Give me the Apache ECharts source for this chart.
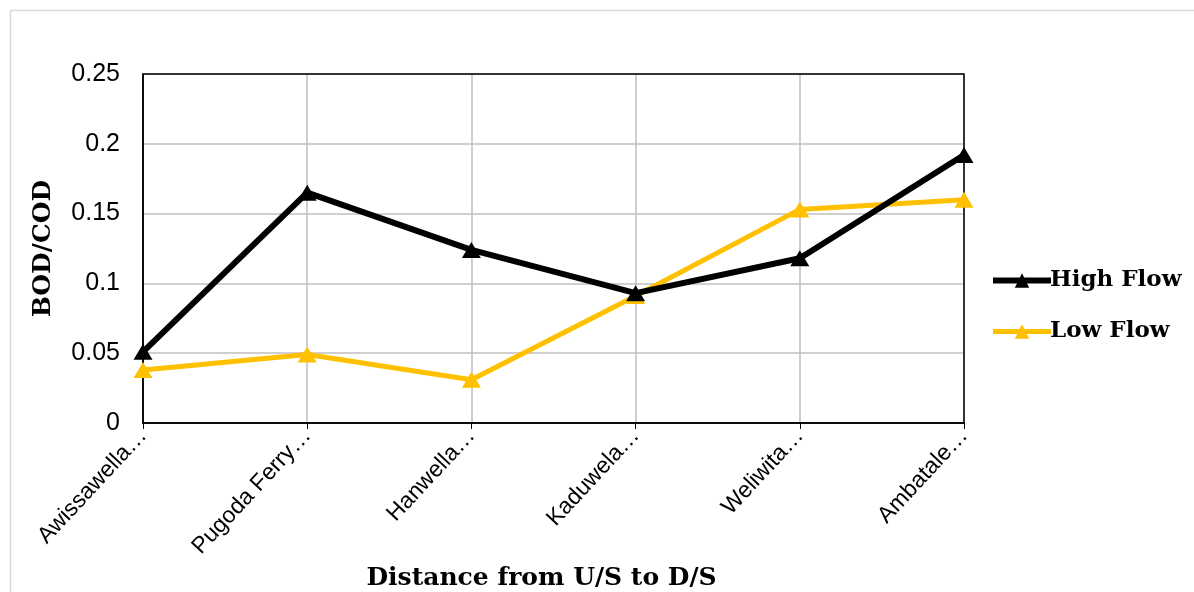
<!DOCTYPE html>
<html><head><meta charset="utf-8">
<script src="https://cdn.jsdelivr.net/npm/echarts@6/dist/echarts.min.js"></script>
<style>html,body{margin:0;padding:0;background:#fff}#c{width:1194px;height:592px}</style>
</head><body><div id="c"></div>
<script>
const categories = ['Awissawella…', 'Pugoda Ferry…', 'Hanwella…', 'Kaduwela…', 'Weliwita…', 'Ambatale…'];
const highFlow = [0.051, 0.165, 0.124, 0.093, 0.118, 0.192];
const lowFlow = [0.038, 0.049, 0.031, 0.091, 0.153, 0.160];
const yTicks = { min: 0, max: 0.25, interval: 0.05 };

const chart = echarts.init(document.getElementById('c'), null, { renderer: 'canvas' });
const serif = '"DejaVu Serif", "Liberation Serif", serif';
const sans = '"Liberation Sans", Arial, sans-serif';
chart.setOption({
  animation: false,
  backgroundColor: '#fff',
  graphic: [{
    type: 'rect', shape: { x: 10.5, y: 10.5, width: 1300, height: 700 },
    style: { fill: 'none', stroke: '#d9d9d9', lineWidth: 1.5 }, silent: true, z: -10
  }, {
    type: 'rect', shape: { x: 143, y: 74, width: 821, height: 349 },
    style: { fill: 'none', stroke: '#000', lineWidth: 1.5 }, silent: true, z: 1
  }],
  grid: { left: 143, right: 230, top: 74, bottom: 169, containLabel: false, outerBoundsMode: 'none' },
  legend: {
    orient: 'vertical', left: 985, top: 264, itemGap: 28,
    itemWidth: 58, itemHeight: 18,
    textStyle: { fontFamily: serif, fontWeight: 'bold', fontSize: 23, color: '#000', padding: [0, 0, 0, -6] },
    data: [
      { name: 'High Flow', lineStyle: { width: 6 } },
      { name: 'Low Flow', lineStyle: { width: 5 } }
    ]
  },
  xAxis: {
    type: 'category', data: categories, boundaryGap: false,
    name: 'Distance from U/S to D/S', nameLocation: 'middle', nameGap: 141,
    nameTextStyle: { fontFamily: serif, fontWeight: 'bold', fontSize: 25, color: '#000', padding: [0, 0, 0, -24] },
    axisLine: { lineStyle: { color: '#000', width: 1.5 } },
    axisTick: { show: true, alignWithLabel: true, length: 6, lineStyle: { color: '#000' } },
    axisLabel: { rotate: 47, fontFamily: sans, fontSize: 23, color: '#000', margin: 9, interval: 0 },
    splitLine: { show: true, lineStyle: { color: '#bfbfbf', width: 1.5 } }
  },
  yAxis: {
    type: 'value', min: yTicks.min, max: yTicks.max, interval: yTicks.interval,
    name: 'BOD/COD', nameLocation: 'middle', nameGap: 87, nameRotate: 90,
    nameTextStyle: { fontFamily: serif, fontWeight: 'bold', fontSize: 25, color: '#000' },
    axisLine: { show: true, lineStyle: { color: '#000', width: 1.5 } },
    axisTick: { show: false },
    axisLabel: { fontFamily: sans, fontSize: 25, color: '#000', margin: 23 },
    splitLine: { show: true, lineStyle: { color: '#bfbfbf', width: 1.5 } }
  },
  series: [{
    name: 'High Flow', type: 'line', data: highFlow,
    symbol: 'triangle', symbolSize: [19, 16], showAllSymbol: true,
    lineStyle: { color: '#000', width: 6 }, itemStyle: { color: '#000' }, z: 3
  }, {
    name: 'Low Flow', type: 'line', data: lowFlow,
    symbol: 'triangle', symbolSize: [19, 16], showAllSymbol: true,
    lineStyle: { color: '#FFC000', width: 5 }, itemStyle: { color: '#FFC000' }, z: 2
  }]
});
</script></body></html>
